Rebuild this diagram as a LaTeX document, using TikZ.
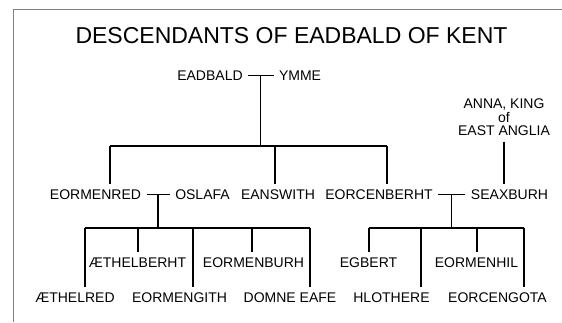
\documentclass[tikz,border=0pt]{standalone}
\usepackage{fontspec}
\setmainfont{Liberation Sans}
\usetikzlibrary{calc}

\begin{document}
\begin{tikzpicture}[x=1pt, y=-1pt,
  person/.style={inner sep=0pt, outer sep=5.5pt, anchor=base,
    font=\fontsize{14}{13.5}\selectfont},
  line/.style={line width=1.3pt, black}]

\useasboundingbox (0,0) rectangle (562,322);

% Frame (only top and left edges show)
\draw[gray, line width=1pt] (562,9) -- (13,9) -- (13,322);

% Title
\node[anchor=base, inner sep=0pt, font=\fontsize{23}{26}\selectfont] (title) at (291.5,43)
  {DESCENDANTS OF EADBALD OF KENT};

% First generation
\node[person] (eadbald) at (210,80) {EADBALD};
\node[person] (ymme) at (300,80) {YMME};
\node[person, anchor=south, align=center] (anna) at (504,141.5) {ANNA, KING\\of\\EAST ANGLIA};

% Second generation
\node[person] (eormenred) at (95.5,199) {EORMENRED};
\node[person] (oslafa) at (202.5,199) {OSLAFA};
\node[person] (eanswith) at (278,199) {EANSWITH};
\node[person] (eorcenberht) at (379,199) {EORCENBERHT};
\node[person] (seaxburh) at (509.5,199) {SEAXBURH};

% Third generation (staggered in two rows)
\node[person] (aethelberht) at (137.5,267) {ÆTHELBERHT};
\node[person] (eormenburh) at (253.5,267) {EORMENBURH};
\node[person] (egbert) at (368.5,267) {EGBERT};
\node[person] (eormenhil) at (476.5,267) {EORMENHIL};

\node[person] (aethelred) at (75,302) {ÆTHELRED};
\node[person] (eormengith) at (179.5,302) {EORMENGITH};
\node[person] (domne) at (290,302) {DOMNE EAFE};
\node[person] (hlothere) at (391.5,302) {HLOTHERE};
\node[person] (eorcengota) at (497.5,302) {EORCENGOTA};

% Junctions on the sibling bars
\coordinate (kA1) at (110,146);
\coordinate (kA2) at (275,146);
\coordinate (kA3) at (387,146);

\coordinate (kB1) at (85,228);
\coordinate (kB2) at (138,228);
\coordinate (kB3) at (193,228);
\coordinate (kB4) at (252,228);
\coordinate (kB5) at (310,228);

\coordinate (kC1) at (369,228);
\coordinate (kC2) at (421,228);
\coordinate (kC3) at (477,228);
\coordinate (kC4) at (524,228);

% Eadbald and Ymme
\draw[line] (eadbald) -- (ymme) coordinate[midway] (m1);
\draw[line] (m1) -- (m1 |- kA1);
\draw[line] (kA1) -- (kA3);
\draw[line] (kA1) -- (kA1 |- eormenred.north);
\draw[line] (kA2) -- (kA2 |- eanswith.north);
\draw[line] (kA3) -- (kA3 |- eorcenberht.north);

% Anna's daughter
\draw[line] (anna.south) -- (anna.south |- seaxburh.north);

% Eormenred and Oslafa
\draw[line] (eormenred) -- (oslafa) coordinate[midway] (m2);
\draw[line] (m2) -- (m2 |- kB1);
\draw[line] (kB1) -- (kB5);
\draw[line] (kB1) -- (kB1 |- aethelred.north);
\draw[line] (kB2) -- (kB2 |- aethelberht.north);
\draw[line] (kB3) -- (kB3 |- eormengith.north);
\draw[line] (kB4) -- (kB4 |- eormenburh.north);
\draw[line] (kB5) -- (kB5 |- domne.north);

% Eorcenberht and Seaxburh
\draw[line] (eorcenberht) -- (seaxburh) coordinate[midway] (m3);
\draw[line] (m3) -- (m3 |- kC1);
\draw[line] (kC1) -- (kC4);
\draw[line] (kC1) -- (kC1 |- egbert.north);
\draw[line] (kC2) -- (kC2 |- hlothere.north);
\draw[line] (kC3) -- (kC3 |- eormenhil.north);
\draw[line] (kC4) -- (kC4 |- eorcengota.north);

\end{tikzpicture}
\end{document}
